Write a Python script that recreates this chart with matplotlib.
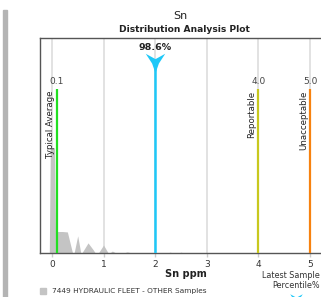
import matplotlib
matplotlib.use("Agg")
import matplotlib.pyplot as plt
from matplotlib.path import Path
import numpy as np

# ---- data ----
dist_x = [-0.05, -0.03, 0.05, 0.07, 0.10, 0.20, 0.30, 0.40, 0.43, 0.50, 0.56, 0.58,
          0.70, 0.80, 0.84, 0.90, 1.00, 1.09, 1.12, 1.17, 1.24, 1.38, 1.46, 1.55,
          2.24, 2.29, 2.34, 2.45, 2.50, 2.55]
dist_y = [0.0, 0.49, 0.49, 0.10, 0.10, 0.10, 0.098, 0.0, 0.0, 0.08, 0.0, 0.0,
          0.047, 0.015, 0.0, 0.0, 0.037, 0.0, 0.0, 0.009, 0.0, 0.0, 0.005, 0.0,
          0.0, 0.004, 0.0, 0.0, 0.004, 0.0]
limit_values = [0.1, 4.0, 5.0]
limit_names = ["Typical Average", "Reportable", "Unacceptable"]
limit_labels = ["0.1", "4.0", "5.0"]
limit_colors = ["#22e022", "#c8c81e", "#f7820f"]
latest_value = 2.0
latest_pct = "98.6%"
xticks = [0, 1, 2, 3, 4, 5]
legend_fleet = "7449 HYDRAULIC FLEET - OTHER Samples"

W, H = 321, 297
fig = plt.figure(figsize=(W / 100, H / 100), dpi=100)
fig.patch.set_facecolor("white")

def fx(px):
    return px / W

def fy(py):
    return 1 - py / H

ax_l, ax_r, ax_t, ax_b = 40, 323, 38, 253
ax = fig.add_axes([fx(ax_l), fy(ax_b), fx(ax_r - ax_l), (ax_b - ax_t) / H])
ax.set_xlim(-0.23, 5.25)
ax.set_ylim(0, 1)

# grid
for t in xticks:
    ax.axvline(t, color="#dddddd", lw=1.2, zorder=0)

# distribution
ax.fill_between(dist_x, dist_y, 0, color="#c4c4c4", lw=0, zorder=1)

# limit lines
line_top = 0.765
for v, name, lab, c in zip(limit_values, limit_names, limit_labels, limit_colors):
    ax.plot([v, v], [0, line_top], color=c, lw=1.6, zorder=3, solid_capstyle="butt")
    ax.text(v, line_top + 0.012, lab, ha="center", va="bottom", fontsize=6.5,
            color="#444444", zorder=4)
    ax.text(v - 0.04, line_top - 0.01, name, rotation=90, ha="right", va="top",
            fontsize=6.2, color="#222222", zorder=4)

# latest sample marker
pin = Path([(-1, 1), (0, 0.45), (1, 1), (0.35, 0.0), (0, -1), (-0.35, 0.0), (-1, 1)],
           [Path.MOVETO, Path.LINETO, Path.LINETO, Path.LINETO, Path.LINETO,
            Path.LINETO, Path.CLOSEPOLY])
mk_y = 0.882
ax.plot([latest_value, latest_value], [0, mk_y], color="#1ec8f8", lw=1.8, zorder=3)
ax.plot([latest_value], [mk_y], marker=pin, markersize=14, color="#1ec8f8",
        markeredgewidth=0, zorder=5, clip_on=False)
ax.text(latest_value, 0.955, latest_pct, ha="center", va="center", fontsize=6.8,
        fontweight="bold", color="#222222", zorder=6)

# axes styling
ax.set_yticks([])
ax.set_xticks(xticks)
ax.set_xticklabels([str(t) for t in xticks])
ax.tick_params(axis="x", length=3, width=1, color="#cccccc", labelsize=6.5,
               labelcolor="#333333", pad=2)
for s in ["left", "bottom", "top"]:
    ax.spines[s].set_color("#555555")
    ax.spines[s].set_linewidth(1.0)
ax.spines["right"].set_visible(False)

# titles
fig.text(fx(180), fy(16), "Sn", ha="center", va="center", fontsize=8, color="#222222")
fig.text(fx(184), fy(30), "Distribution Analysis Plot", ha="center", va="center",
         fontsize=6.6, fontweight="bold", color="#222222")
fig.text(fx(186), fy(274), "Sn ppm", ha="center", va="center", fontsize=7,
         fontweight="bold", color="#222222")

# legend
fig.patches.append(plt.Rectangle((fx(40), fy(294)), fx(6), 6 / H, color="#c4c4c4",
                                 transform=fig.transFigure))
fig.text(fx(52), fy(291), legend_fleet, ha="left", va="center", fontsize=5.3,
         color="#333333")
fig.text(fx(320), fy(276), "Latest Sample", ha="right", va="center", fontsize=5.8,
         color="#333333")
fig.text(fx(320), fy(286), "Percentile%", ha="right", va="center", fontsize=5.8,
         color="#333333")
fig.lines.append(plt.Line2D([fx(296)], [fy(300)], marker=pin, markersize=9,
                            color="#1ec8f8", markeredgewidth=0,
                            transform=fig.transFigure))

# page decoration bar
fig.patches.append(plt.Rectangle((fx(3), 0), fx(4), fy(10), color="#b4b4b4",
                                 transform=fig.transFigure))

fig.savefig("out.png", dpi=100)
